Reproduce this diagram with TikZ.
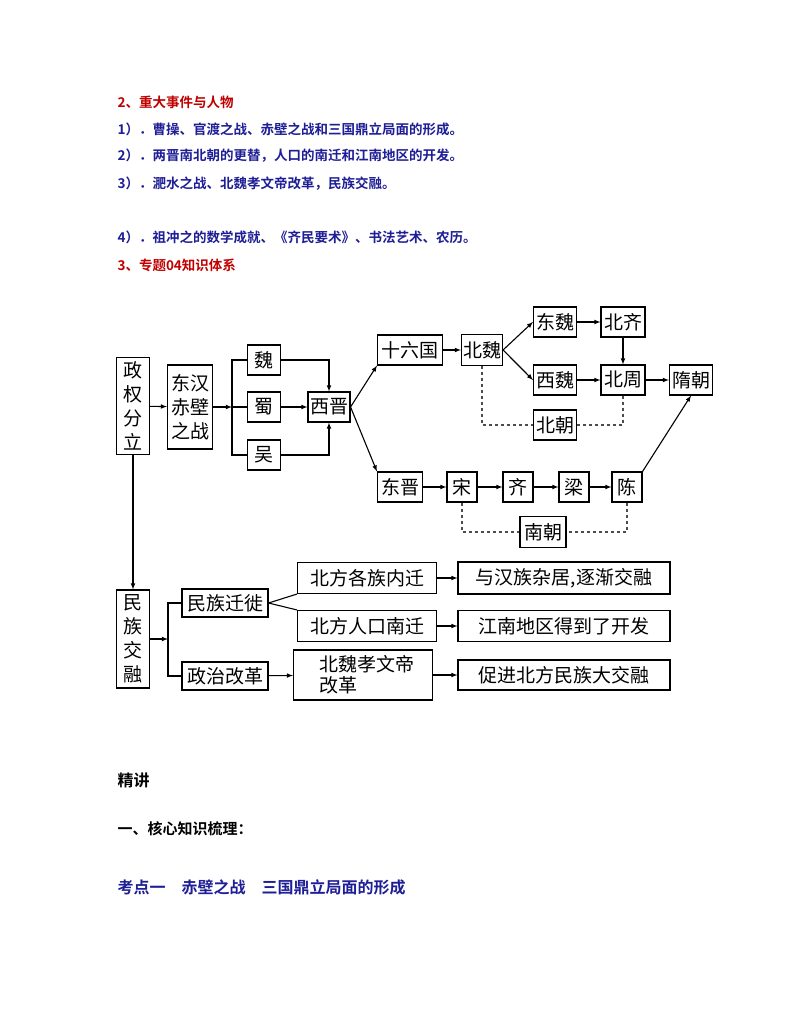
\documentclass[tikz,border=0pt]{standalone}
\usepackage{fontspec}
\setmainfont{Noto Sans CJK SC}[BoldFont={Noto Sans CJK SC Bold}]
\usetikzlibrary{positioning}
\definecolor{hdred}{RGB}{192,0,0}
\definecolor{hdblue}{RGB}{30,30,150}

\begin{document}
\begin{tikzpicture}[x=1pt,y=-1pt,line width=1.1pt,
 box/.style={draw,inner sep=0pt,font=\fontsize{19}{24}\selectfont,align=center},
 arr/.style={-latex},
 dline/.style={dashed,draw=black!70},
 hd/.style={anchor=west,inner sep=0pt,font=\fontsize{13.5}{15}\selectfont\bfseries}]
  \useasboundingbox (0,0) rectangle (794,1028);

  % headings
  \node[hd,text=hdred] (h1) at (117,102) {2、重大事件与人物};
  \node[hd,text=hdblue] (h2) at (117,129) {1）．曹操、官渡之战、赤壁之战和三国鼎立局面的形成。};
  \node[hd,text=hdblue] (h3) at (117,156) {2）．两晋南北朝的更替，人口的南迁和江南地区的开发。};
  \node[hd,text=hdblue] (h4) at (117,184) {3）．淝水之战、北魏孝文帝改革，民族交融。};
  \node[hd,text=hdblue] (h5) at (117,237) {4）．祖冲之的数学成就、《齐民要术》、书法艺术、农历。};
  \node[hd,text=hdred] (h6) at (117,265) {3、专题04知识体系};

  % upper part
  \node[box,minimum width=33,minimum height=97] (zq) at (133,406) {政\\权\\分\\立};
  \node[box,minimum width=45,minimum height=84] (dh) at (190,407) {东汉\\赤壁\\之战};
  \node[box,minimum width=33,minimum height=30] (wei) at (264,360) {魏};
  \node[box,minimum width=33,minimum height=30] (shu) at (264,407) {蜀};
  \node[box,minimum width=33,minimum height=30] (wu) at (264,455) {吴};
  \node[box,minimum width=42,minimum height=30] (xj) at (329,407) {西晋};
  \node[box,minimum width=65,minimum height=30] (sl) at (410,350) {十六国};
  \node[box,minimum width=41,minimum height=31] (bw) at (482,350) {北魏};
  \node[box,minimum width=43,minimum height=30] (dw) at (555,322) {东魏};
  \node[box,minimum width=44,minimum height=30] (bq) at (623,322) {北齐};
  \node[box,minimum width=43,minimum height=30] (xw) at (555,380) {西魏};
  \node[box,minimum width=44,minimum height=30] (bz) at (623,380) {北周};
  \node[box,minimum width=43,minimum height=30] (sc) at (691,380) {隋朝};
  \node[box,minimum width=43,minimum height=30] (bc) at (555,425) {北朝};
  \node[box,minimum width=45,minimum height=30] (dj) at (400,487) {东晋};
  \node[box,minimum width=30,minimum height=30] (song) at (462,487) {宋};
  \node[box,minimum width=30,minimum height=30] (qi) at (518,487) {齐};
  \node[box,minimum width=30,minimum height=30] (liang) at (574,487) {梁};
  \node[box,minimum width=30,minimum height=30] (chen) at (627,487) {陈};
  \node[box,minimum width=46,minimum height=31] (nc) at (543,532) {南朝};

  \coordinate (br1) at (232,407);
  \draw[arr] (zq) -- (dh);
  \draw[arr] (dh) -- (br1);
  \draw (wei.west) -| (br1) |- (wu.west);
  \draw (br1) -- (shu);
  \draw[arr] (wei) -| (xj.north);
  \draw[arr] (wu) -| (xj.south);
  \draw[arr] (shu) -- (xj);
  \draw[arr] (xj.east) -- (sl.south west);
  \draw[arr] (xj.east) -- (dj.north west);
  \draw[arr] (sl) -- (bw);
  \draw[arr] (bw.east) -- (dw.west);
  \draw[arr] (bw.east) -- (xw.west);
  \draw[arr] (dw) -- (bq);
  \draw[arr] (xw) -- (bz);
  \draw[arr] (bq) -- (bz);
  \draw[arr] (bz) -- (sc);
  \draw[dline] (bw.south) |- (bc.west);
  \draw[dline] (bz.south) |- (bc.east);
  \draw[arr] (dj) -- (song);
  \draw[arr] (song) -- (qi);
  \draw[arr] (qi) -- (liang);
  \draw[arr] (liang) -- (chen);
  \draw[dline] (song.south) |- (nc.west);
  \draw[dline] (chen.south) |- (nc.east);
  \draw[arr] (chen.north east) -- (sc.south);

  % lower part
  \node[box,minimum width=33,minimum height=98] (mr) at (133,639) {民\\族\\交\\融};
  \draw[arr] (zq) -- (mr);
  \node[box,minimum width=86,minimum height=28] (mq) at (225,603) {民族迁徙};
  \node[box,minimum width=86,minimum height=28] (zz) at (225,676) {政治改革};
  \node[box,minimum width=139,minimum height=31] (nq) at (367,578) {北方各族内迁};
  \node[box,minimum width=139,minimum height=31] (nn) at (367,626) {北方人口南迁};
  \node[box,minimum width=139,minimum height=50,font=\fontsize{19}{21}\selectfont,align=left] (xw2) at (363,675) {\ \ 北魏孝文帝\\\ \ 改革};
  \node[box,minimum width=212,minimum height=32] (yh) at (564,578) {与汉族杂居,逐渐交融};
  \node[box,minimum width=212,minimum height=31] (jn) at (564,626) {江南地区得到了开发};
  \node[box,minimum width=212,minimum height=30] (cj) at (564,675) {促进北方民族大交融};

  \coordinate (br2) at (168,639);
  \draw[arr] (mr) -- (br2);
  \draw (mq.west) -| (br2) |- (zz.west);
  \draw (mq.east) -- (nq.south west);
  \draw (mq.east) -- (nn.north west);
  \draw[arr] (zz) -- (xw2);
  \draw[arr] (nq) -- (yh);
  \draw[arr] (nn) -- (jn);
  \draw[arr] (xw2.east|-cj) -- (cj);

  % bottom text
  \node[hd,font=\fontsize{16}{18}\selectfont\bfseries] (jj) at (117,780) {精讲};
  \node[hd,font=\fontsize{15}{18}\selectfont\bfseries] (hx) at (117,829) {一、核心知识梳理：};
  \node[hd,text=hdblue,font=\fontsize{16}{18}\selectfont\bfseries] (kd) at (117,887) {考点一\quad 赤壁之战\quad 三国鼎立局面的形成};
\end{tikzpicture}
\end{document}
